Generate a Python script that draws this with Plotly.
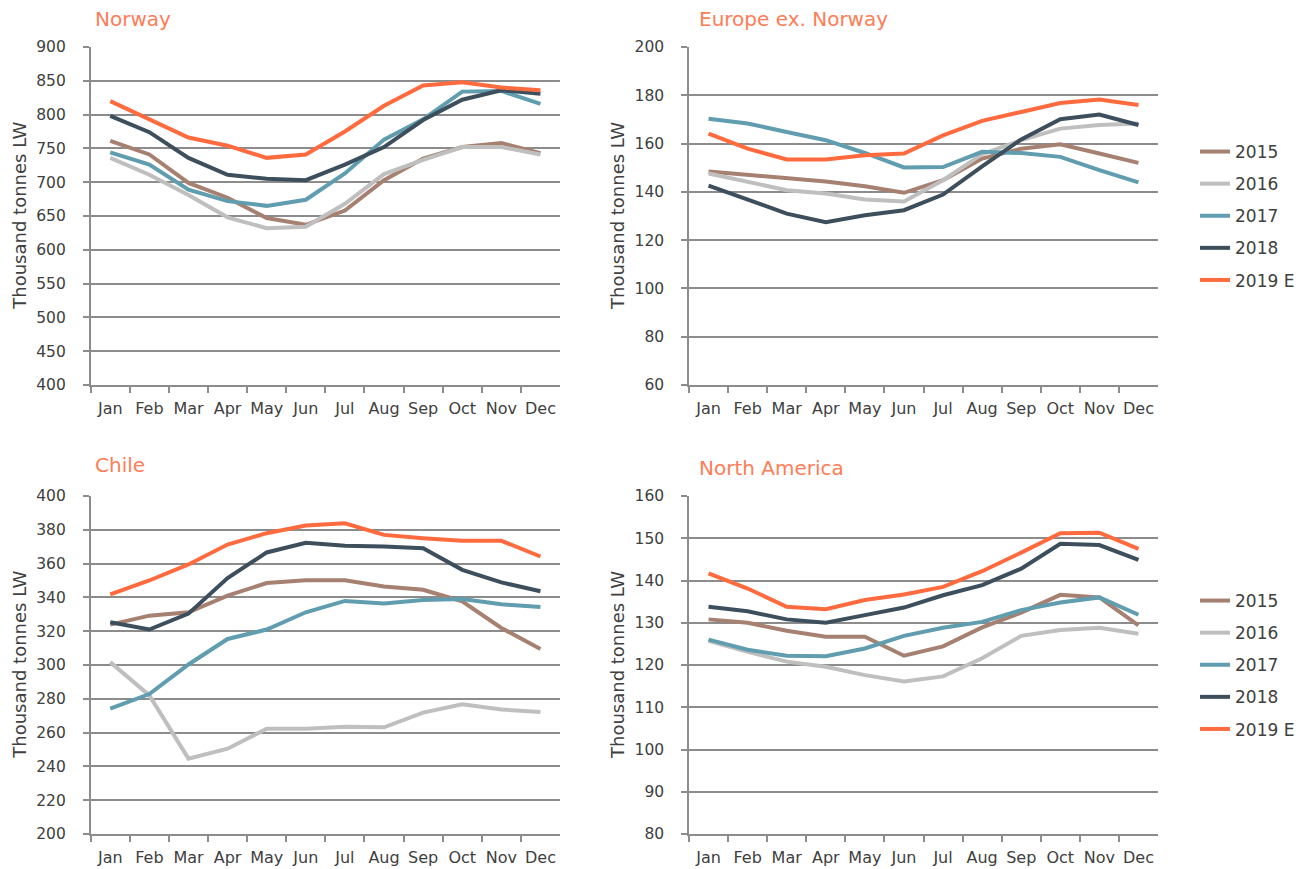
import plotly.graph_objects as go

months = ["Jan", "Feb", "Mar", "Apr", "May", "Jun", "Jul", "Aug", "Sep", "Oct", "Nov", "Dec"]
years = ["2015", "2016", "2017", "2018", "2019 E"]

# Norway (thousand tonnes LW)
norway_2015 = [761, 741, 699, 677, 647, 637, 658, 703, 735, 752, 758, 743]
norway_2016 = [736, 711, 681, 648, 632, 634, 668, 712, 733, 752, 752, 741]
norway_2017 = [744, 726, 689, 672, 665, 674, 713, 763, 793, 834, 835, 816]
norway_2018 = [798, 774, 736, 711, 705, 703, 726, 752, 792, 822, 836, 831]
norway_2019 = [820, 793, 766, 754, 736, 741, 775, 813, 843, 848, 840, 836]

# Europe ex. Norway
europe_2015 = [148.4, 147.0, 145.4, 144.3, 142.3, 139.6, 144.8, 153.8, 157.9, 159.7, 155.9, 152.0]
europe_2016 = [147.6, 144.1, 140.7, 139.3, 136.8, 136.0, 144.8, 155.6, 161.4, 166.2, 167.7, 168.3]
europe_2017 = [170.3, 168.3, 164.8, 161.4, 156.1, 150.1, 150.3, 156.6, 156.1, 154.5, 149.0, 143.9]
europe_2018 = [142.6, 136.8, 131.0, 127.4, 130.3, 132.4, 138.9, 150.6, 161.7, 170.1, 172.0, 167.7]
europe_2019 = [164.1, 157.9, 153.4, 153.4, 155.2, 155.9, 163.4, 169.4, 173.1, 176.8, 178.2, 176.0]

# Chile
chile_2015 = [323.9, 329.2, 331.2, 341.0, 348.5, 350.2, 350.2, 346.5, 344.5, 337.7, 321.9, 309.5]
chile_2016 = [301.7, 282.0, 244.6, 250.5, 262.3, 262.3, 263.5, 263.1, 271.8, 276.7, 273.7, 272.2]
chile_2017 = [274.2, 282.8, 300.3, 315.4, 321.0, 331.2, 337.9, 336.4, 338.5, 339.1, 335.9, 334.3]
chile_2018 = [325.3, 321.0, 330.4, 351.4, 366.6, 372.3, 370.5, 370.1, 369.1, 356.3, 348.9, 343.6]
chile_2019 = [341.8, 350.0, 359.5, 371.3, 378.0, 382.5, 383.9, 377.0, 375.0, 373.5, 373.5, 364.2]

# North America
namerica_2015 = [130.8, 130.0, 128.1, 126.7, 126.7, 122.2, 124.4, 128.9, 132.4, 136.6, 136.0, 129.4]
namerica_2016 = [125.7, 123.1, 120.8, 119.6, 117.6, 116.1, 117.3, 121.6, 126.9, 128.3, 128.8, 127.4]
namerica_2017 = [126.0, 123.6, 122.2, 122.1, 123.9, 126.9, 128.8, 130.2, 133.0, 134.8, 136.0, 131.9]
namerica_2018 = [133.8, 132.7, 130.8, 130.0, 131.8, 133.6, 136.5, 138.9, 142.8, 148.7, 148.4, 144.9]
namerica_2019 = [141.7, 138.1, 133.8, 133.2, 135.4, 136.7, 138.5, 142.2, 146.6, 151.2, 151.3, 147.5]

W, H = 1306, 869
FONT = "'DejaVu Sans', sans-serif"
TEXT = "#404040"
GRID = "#8c8c8c"
TITLE = "#ff7c55"
colors = ["#a68070", "#bfbfbf", "#5f9daf", "#3d4f5c", "#ff6b3e"]


def px_x(v):
    return v / W


def px_y(v):
    return 1 - v / H


panels = [
    # title, series, y range, dtick, x px span, y px span, legend id, title position
    ("Norway", [norway_2015, norway_2016, norway_2017, norway_2018, norway_2019],
     (400, 900), 50, (90.7, 560), (47, 385), None, (93, 19)),
    ("Europe ex. Norway", [europe_2015, europe_2016, europe_2017, europe_2018, europe_2019],
     (60, 200), 20, (689, 1158), (47, 385), "legend", (697, 19)),
    ("Chile", [chile_2015, chile_2016, chile_2017, chile_2018, chile_2019],
     (200, 400), 20, (90.7, 560), (496, 834), None, (93, 465)),
    ("North America", [namerica_2015, namerica_2016, namerica_2017, namerica_2018, namerica_2019],
     (80, 160), 10, (689, 1158), (496, 834), "legend2", (697, 468)),
]

fig = go.Figure()
annotations = []

for i, (title, series, yr, dt, xs, ys, leg, tpos) in enumerate(panels):
    n = i + 1
    xa = "x" if n == 1 else f"x{n}"
    ya = "y" if n == 1 else f"y{n}"
    for year, vals, col in zip(years, series, colors):
        tr = dict(
            x=months, y=vals, name=year, mode="lines",
            line=dict(color=col, width=4),
            xaxis=xa, yaxis=ya,
            showlegend=leg is not None,
            legendgroup=f"{n}-{year}",
            hoverinfo="skip",
        )
        if leg is not None:
            tr["legend"] = leg
        fig.add_trace(go.Scatter(**tr))

    xkey = "xaxis" if n == 1 else f"xaxis{n}"
    ykey = "yaxis" if n == 1 else f"yaxis{n}"
    fig.layout[xkey] = dict(
        domain=[px_x(xs[0]), px_x(xs[1])], anchor=ya, type="category",
        categoryorder="array", categoryarray=months, range=[-0.5, 11.5],
        showgrid=False, showline=True, linecolor=GRID, linewidth=1.5,
        ticks="outside", tickson="boundaries", ticklen=6, tickcolor=GRID, tickwidth=1.5,
        tickangle=0, automargin=False,
        tickfont=dict(family=FONT, size=16, color=TEXT), ticklabelstandoff=8,
        fixedrange=True,
    )
    fig.layout[ykey] = dict(
        domain=[px_y(ys[1]), px_y(ys[0])], anchor=xa, range=list(yr), dtick=dt,
        tick0=yr[0], showgrid=True, gridcolor=GRID, gridwidth=1.5,
        showline=True, linecolor=GRID, linewidth=1.5, zeroline=False,
        ticks="outside", ticklen=6, tickcolor=GRID, tickwidth=1.5,
        automargin=False,
        tickfont=dict(family=FONT, size=15.5, color=TEXT), ticklabelstandoff=14,
        fixedrange=True,
    )
    annotations.append(dict(
        text=title, xref="paper", yref="paper", x=px_x(tpos[0]), y=px_y(tpos[1]),
        xanchor="left", yanchor="middle", showarrow=False,
        font=dict(family=FONT, size=20, color=TITLE),
    ))
    annotations.append(dict(
        text="Thousand tonnes LW", xref="paper", yref="paper",
        x=px_x(xs[0] - 72), y=px_y((ys[0] + ys[1]) / 2), textangle=-90,
        xanchor="center", yanchor="middle", showarrow=False,
        font=dict(family=FONT, size=18, color=TEXT),
    ))

legend_style = dict(
    xref="paper", yref="paper", xanchor="left", yanchor="top",
    font=dict(family=FONT, size=17, color=TEXT), bgcolor="rgba(0,0,0,0)",
    tracegroupgap=7, itemwidth=30, traceorder="grouped",
)

fig.update_layout(
    width=W, height=H, margin=dict(l=0, r=0, t=0, b=0),
    paper_bgcolor="white", plot_bgcolor="white",
    annotations=annotations,
    legend=dict(x=px_x(1195), y=px_y(134), **legend_style),
    legend2=dict(x=px_x(1195), y=px_y(583), **legend_style),
)

fig.write_html("out.html")
